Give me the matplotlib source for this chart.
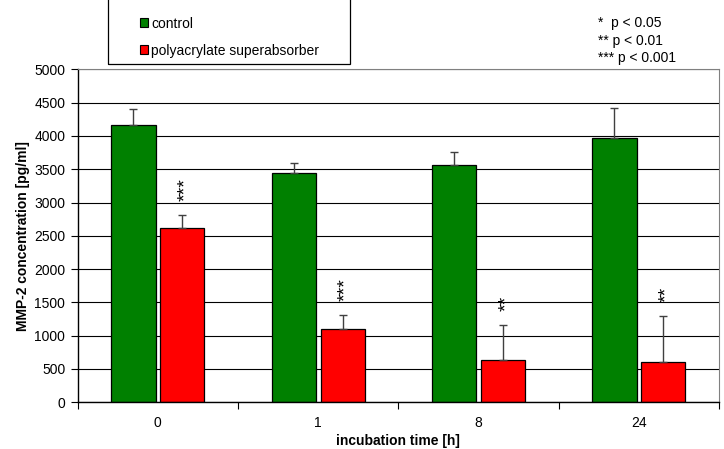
import numpy as np
import matplotlib.pyplot as plt
from matplotlib.patches import Patch, Rectangle

plt.rcParams["font.family"] = ["Liberation Sans", "DejaVu Sans"]

TIMES = ["0", "1", "8", "24"]
CONTROL = [4170, 3440, 3560, 3970]
CONTROL_ERR = [240, 150, 205, 455]
SAB = [2610, 1095, 630, 600]
SAB_ERR = [205, 210, 525, 700]
STARS = ["***", "***", "**", "**"]
P_NOTES = ["*  p < 0.05", "** p < 0.01", "*** p < 0.001"]
SERIES = ["control", "polyacrylate superabsorber"]

GREEN, RED = "#008000", "#FF0000"
W, H = 724, 449

fig = plt.figure(figsize=(W / 100, H / 100), dpi=100)
ax = fig.add_axes([77.7 / W, 1 - 402.3 / H, (719 - 77.7) / W, (402.3 - 69.3) / H])

x = np.arange(len(TIMES))
off, bw = 0.152, 0.275
ax.bar(x - off, CONTROL, bw, color=GREEN, edgecolor="black", lw=0.9, zorder=2)
ax.bar(x + off, SAB, bw, color=RED, edgecolor="black", lw=0.9, zorder=2)
zeros = np.zeros(len(x))
ax.errorbar(x - off, CONTROL, yerr=[zeros, CONTROL_ERR], fmt="none",
            ecolor="#404040", elinewidth=1, capsize=3, capthick=1, zorder=3)
ax.errorbar(x + off, SAB, yerr=[zeros, SAB_ERR], fmt="none",
            ecolor="#404040", elinewidth=1, capsize=3, capthick=1, zorder=3)

# significance marks, rotated like the original
for xi, v, e, s in zip(x + off, SAB, SAB_ERR, STARS):
    ax.annotate(s, (xi, v + e), xytext=(2.5, 10), textcoords="offset points",
                rotation=90, ha="center", va="bottom", fontsize=14)

ax.set_xlim(-0.5, len(TIMES) - 0.5)
ax.set_ylim(0, 5000)
ax.set_yticks(np.arange(0, 5001, 500))
ax.set_xticks(x, TIMES)
ax.set_xticks(np.arange(-0.5, len(TIMES)), minor=True)
ax.tick_params(axis="x", which="major", length=0, pad=10, labelsize=10)
ax.tick_params(axis="x", which="minor", length=5, width=0.8, direction="out")
ax.tick_params(axis="y", length=5, width=0.8, pad=4, labelsize=10)
ax.yaxis.grid(True, color="black", lw=0.8)
ax.set_axisbelow(True)
for side in ["left", "bottom"]:
    ax.spines[side].set_linewidth(1.0)
for side in ["top", "right"]:
    ax.spines[side].set_color("#808080")

ax.set_xlabel("incubation time [h]", fontsize=10, fontweight="bold", labelpad=3)
ax.set_ylabel("MMP-2 concentration [pg/ml]", fontsize=10, fontweight="bold", labelpad=3)

# legend: frame reaches above the top edge of the figure
fig.add_artist(Rectangle((108 / W, 1 - 64 / H), 242 / W, 80 / H,
                         transform=fig.transFigure, fill=False,
                         edgecolor="black", lw=0.9))
handles = [Patch(facecolor=c, edgecolor="black", lw=0.8) for c in (GREEN, RED)]
fig.legend(handles, SERIES, loc="upper left", bbox_to_anchor=(140 / W, 1 - 16.5 / H),
           frameon=False, fontsize=10, borderpad=0, borderaxespad=0,
           handlelength=0.6, handleheight=0.6, handletextpad=0.2,
           labelspacing=0.94)

for i, note in enumerate(P_NOTES):
    fig.text(598 / W, 1 - (22.7 + 17.8 * i) / H, note, fontsize=10,
             ha="left", va="center")

fig.savefig("out.png", dpi=100)
